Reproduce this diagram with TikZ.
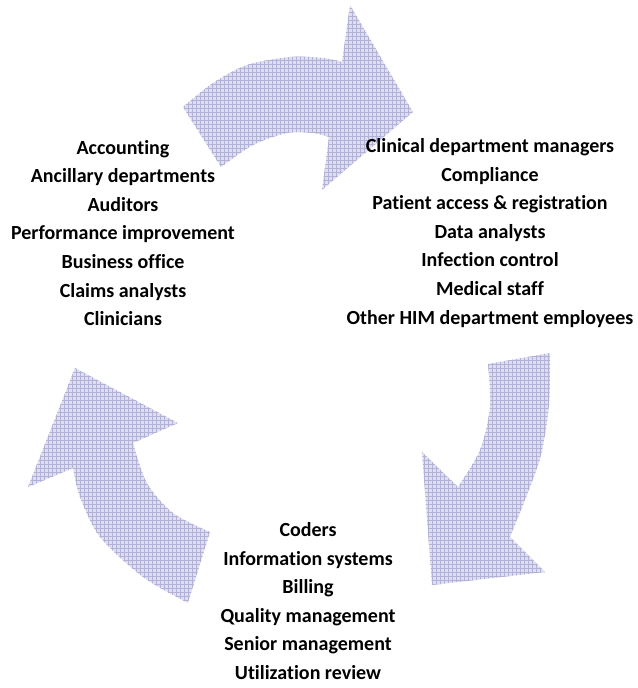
\documentclass[tikz,border=0pt]{standalone}
\usepackage{fontspec}
\setmainfont{Carlito}[Ligatures=NoCommon]
\usetikzlibrary{patterns,positioning}
\definecolor{arrowbase}{RGB}{222,222,238}
\definecolor{arrowgrid}{RGB}{178,178,216}

\begin{document}
\begin{tikzpicture}[x=0.75pt,y=-0.75pt,
  cyclearrow/.style={preaction={fill=arrowbase},pattern=grid,pattern color=arrowgrid},
  group/.style={align=center,inner sep=0pt,font=\bfseries\fontsize{15}{21.4}\selectfont}]
   \useasboundingbox (0,0) rectangle (638,688);
   % top arrow
   \path[cyclearrow] plot[smooth] coordinates {(183,107) (213,83) (247,65) (290,57) (323,58) (342,62)}
     -- (350,5) -- (413,112) -- (322,190) -- (329,137)
     -- plot[smooth] coordinates {(329,137) (313,133) (287,133) (253,145) (221,167)} -- cycle;
   % right arrow
   \path[cyclearrow] plot[smooth] coordinates {(550,353) (549,405) (541,455) (527,495) (510,537)}
     -- (545,572) -- (432,585) -- (422,452) -- (458,487)
     -- plot[smooth] coordinates {(458,487) (480,450) (490,407) (488,364)} -- cycle;
   % left arrow
   \path[cyclearrow] plot[smooth] coordinates {(210,532) (173,513) (147,483) (133,443)}
     -- (178,423) -- (75,368) -- (28,487) -- (73,468)
     -- plot[smooth] coordinates {(73,468) (80,497) (100,537) (143,577) (188,603)} -- cycle;

   \node[group] (left) at (123,233) {Accounting\\Ancillary departments\\Auditors\\Performance improvement\\Business office\\Claims analysts\\Clinicians};
   \node[group] (right) at (490,233) {Clinical department managers\\Compliance\\Patient access \& registration\\Data analysts\\Infection control\\Medical staff\\Other HIM department employees};
   \node[group] (bottom) at (308,601) {Coders\\Information systems\\Billing\\Quality management\\Senior management\\Utilization review};
\end{tikzpicture}
\end{document}
